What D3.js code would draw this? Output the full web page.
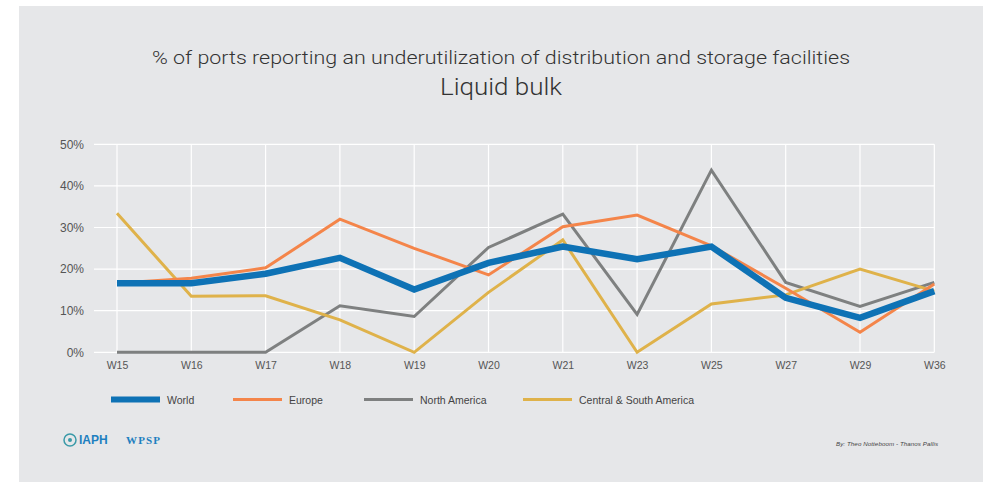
<!DOCTYPE html>
<html>
<head>
<meta charset="utf-8">
<script src="https://cdn.jsdelivr.net/npm/d3@7"></script>
<style>
  body { margin: 0; background: #fff; }
  text { font-family: "Liberation Sans", Arial, sans-serif; }
</style>
</head>
<body>
<div id="chart"></div>
<script>
// data
var weeks = ["W15","W16","W17","W18","W19","W20","W21","W23","W25","W27","W29","W36"];
var world   = [16.6, 16.6, 18.9, 22.7, 15.1, 21.5, 25.4, 22.4, 25.4, 13.1, 8.3, 14.7];
var europe  = [16.6, 17.8, 20.3, 32.0, 25.0, 18.6, 30.2, 33.0, 25.6, 15.4, 4.8, 16.4];
var northAm = [0, 0, 0, 11.2, 8.6, 25.2, 33.2, 9.1, 43.8, 16.8, 11.0, 16.8];
var centralSouthAm = [33.4, 13.5, 13.6, 7.8, 0, 14.4, 27.0, 0, 11.6, 13.8, 20.0, 14.7];
var yTicks = [0, 10, 20, 30, 40, 50];

var series = [
    {name: "North America", values: northAm, color: "#7e8080", width: 3},
    {name: "Central & South America", values: centralSouthAm, color: "#dfb24a", width: 3},
    {name: "Europe", values: europe, color: "#f4854a", width: 3},
    {name: "World", values: world, color: "#0e72b5", width: 6.5}
];
var legendOrder = ["World", "Europe", "North America", "Central & South America"];

var W = 989, H = 482;
var svg = d3.select("#chart").append("svg")
    .attr("width", W)
    .attr("height", H);

// grey panel
svg.append("rect")
    .attr("x", 19).attr("y", 6)
    .attr("width", 964).attr("height", 476)
    .attr("fill", "#e6e7e9");

// titles
svg.append("text")
    .text("% of ports reporting an underutilization of distribution and storage facilities")
    .attr("x", 501).attr("y", 64)
    .attr("text-anchor", "middle")
    .attr("font-size", 18.5)
    .attr("font-weight", 300)
    .style("font-family", "Roboto, sans-serif")
    .attr("textLength", 698)
    .attr("lengthAdjust", "spacingAndGlyphs")
    .attr("fill", "#333");
svg.append("text")
    .text("Liquid bulk")
    .attr("x", 501).attr("y", 95)
    .attr("text-anchor", "middle")
    .attr("font-size", 23)
    .attr("font-weight", 300)
    .style("font-family", "Roboto, sans-serif")
    .attr("textLength", 122)
    .attr("lengthAdjust", "spacingAndGlyphs")
    .attr("fill", "#333");

var x = d3.scalePoint()
    .domain(weeks)
    .range([117, 934.3]);
var y = d3.scaleLinear()
    .domain([0, 50])
    .range([352.3, 144.3]);

var g = svg.append("g");

// horizontal grid
g.selectAll("line.h")
    .data(yTicks)
    .enter().append("line")
    .attr("class", "h")
    .attr("x1", 94).attr("x2", 934.3)
    .attr("y1", d => y(d)).attr("y2", d => y(d))
    .attr("stroke", "#fff")
    .attr("stroke-width", 1.2);

// vertical grid
g.selectAll("line.v")
    .data(weeks)
    .enter().append("line")
    .attr("class", "v")
    .attr("x1", d => x(d)).attr("x2", d => x(d))
    .attr("y1", y(50)).attr("y2", y(0))
    .attr("stroke", "#fff")
    .attr("stroke-width", 1.2);

// y axis labels
var yAxis = d3.axisLeft(y)
    .tickValues(yTicks)
    .tickSize(0)
    .tickPadding(0)
    .tickFormat(d => d + "%");
var ya = svg.append("g")
    .attr("transform", "translate(84,0)")
    .call(yAxis);
ya.select(".domain").remove();
ya.selectAll("text")
    .attr("font-size", 12)
    .attr("fill", "#555")
    .style("font-family", "Liberation Sans, Arial, sans-serif");

// x axis labels
var xAxis = d3.axisBottom(x)
    .tickSize(0)
    .tickPadding(0);
var xa = svg.append("g")
    .attr("transform", "translate(0,362)")
    .call(xAxis);
xa.select(".domain").remove();
xa.selectAll("text")
    .attr("font-size", 10.5)
    .attr("fill", "#555")
    .style("font-family", "Liberation Sans, Arial, sans-serif");

// lines
var line = d3.line()
    .x((d, i) => x(weeks[i]))
    .y(d => y(d));

g.selectAll("path.series")
    .data(series)
    .enter().append("path")
    .attr("class", "series")
    .attr("d", d => line(d.values))
    .attr("fill", "none")
    .attr("stroke", d => d.color)
    .attr("stroke-width", d => d.width)
    .attr("stroke-linejoin", "miter");

// legend
var legendX = [111, 233, 364, 523];
var legend = svg.append("g");
legendOrder.forEach(function(name, i){
    var s = series.find(d => d.name === name);
    legend.append("line")
        .attr("x1", legendX[i]).attr("x2", legendX[i] + 49)
        .attr("y1", 399.5).attr("y2", 399.5)
        .attr("stroke", s.color)
        .attr("stroke-width", name === "World" ? 6 : 3);
    legend.append("text")
        .text(name)
        .attr("x", legendX[i] + 56)
        .attr("y", 403.5)
        .attr("font-size", 10.5)
        .attr("fill", "#444");
});

// logos (text approximation)
var logo = svg.append("g");
logo.append("circle")
    .attr("cx", 70).attr("cy", 440).attr("r", 6)
    .attr("fill", "none").attr("stroke", "#3a9aa8").attr("stroke-width", 1.5);
logo.append("circle")
    .attr("cx", 70).attr("cy", 440).attr("r", 2)
    .attr("fill", "#3a9aa8");
logo.append("text")
    .text("IAPH")
    .attr("x", 79).attr("y", 444)
    .attr("font-size", 12)
    .attr("font-weight", "bold")
    .attr("fill", "#1e7fc0");
logo.append("text")
    .text("WPSP")
    .attr("x", 126).attr("y", 444)
    .attr("font-size", 11)
    .attr("font-weight", "bold")
    .style("font-family", "Liberation Serif, serif")
    .attr("textLength", 34)
    .attr("fill", "#1e7fc0");

svg.append("text")
    .text("By: Theo Notteboom - Thanos Pallis")
    .attr("x", 836).attr("y", 446)
    .attr("font-size", 6.2)
    .attr("font-style", "italic")
    .attr("textLength", 102)
    .attr("fill", "#444");
</script>
</body>
</html>
